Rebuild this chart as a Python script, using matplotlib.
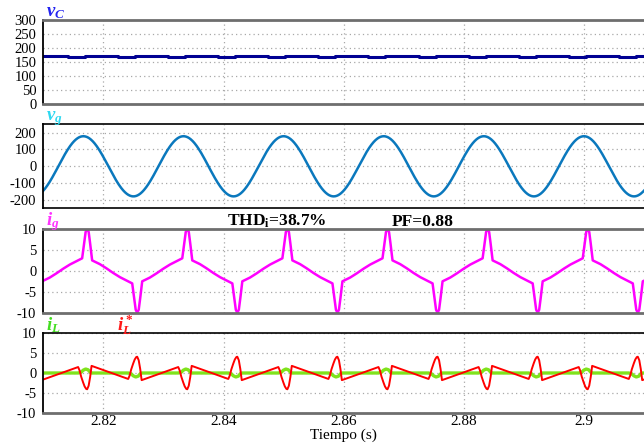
import numpy as np
import matplotlib
matplotlib.use("Agg")
import matplotlib.pyplot as plt

plt.rcParams['font.family'] = ['Liberation Serif', 'DejaVu Serif']
plt.rcParams['mathtext.fontset'] = 'custom'
plt.rcParams['mathtext.it'] = 'Liberation Serif:italic:bold'
plt.rcParams['mathtext.rm'] = 'Liberation Serif:bold'
plt.rcParams['mathtext.bf'] = 'Liberation Serif:bold'
plt.rcParams['axes.unicode_minus'] = False

# ---------------- data ----------------
T_START, T_END = 2.81, 2.91
PERIOD = 1.0 / 60.0                 # grid period (s)
IG_PEAK_TIME = 2.8173               # time of the first positive i_g spike
VG_PEAK_TIME = 2.81667              # time of the first v_g crest
VG_AMPLITUDE = 179.0                # V

# one half-cycle of i_g  (phase in periods, relative to the positive spike)
IG_PHASE = [-0.05, -0.03, -0.015, 0.0, 0.015, 0.03, 0.05, 0.127, 0.193, 0.26, 0.327, 0.41, 0.45]
IG_VALUE = [3.0, 6.5, 9.3, 10.0, 9.3, 6.5, 2.5, 1.6, 0.6, -0.5, -1.5, -2.5, -3.0]

# one half-cycle of i_L* (reference)
ILREF_PHASE = [-0.09, -0.075, -0.06, -0.04, -0.025, -0.01, 0.0, 0.015, 0.03, 0.044, 0.41]
ILREF_VALUE = [1.5, 0.6, -0.9, -2.4, -3.4, -4.0, -4.1, -3.2, -1.0, 1.8, -1.5]

# one half-cycle of i_L (measured)
IL_PHASE = [-0.09, -0.06, -0.04, -0.015, 0.01, 0.03, 0.045, 0.41]
IL_VALUE = [0.0, 0.2, 0.7, 1.0, 0.8, 0.2, 0.0, 0.0]

# v_C ripple: low level starts / high level starts (phase), levels (V)
VC_PHASE = [-0.19, -0.02]
VC_LEVEL = [167.5, 172.0]

X_TICKS = [2.82, 2.84, 2.86, 2.88, 2.90]
X_TICK_LABELS = ['2.82', '2.84', '2.86', '2.88', '2.9']
VC_TICKS = [0, 50, 100, 150, 200, 250, 300]
VG_TICKS = [-200, -100, 0, 100, 200]
I_TICKS = [-10, -5, 0, 5, 10]

THD_TEXT = 'THD$_\\mathrm{i}$=38.7%'
PF_TEXT = 'PF=0.88'
X_LABEL = 'Tiempo (s)'


def tile_half_wave(phase, value, t0, ncycles=range(-1, 7)):
    ph, va = [], []
    for k in ncycles:
        for h in (0, 1):
            ph.extend(np.asarray(phase) + k + 0.5 * h)
            va.extend(np.asarray(value) * (-1) ** h)
    return t0 + np.array(ph) * PERIOD, np.array(va)


t_ig, ig = tile_half_wave(IG_PHASE, IG_VALUE, IG_PEAK_TIME)
t_ref, ilref = tile_half_wave(ILREF_PHASE, ILREF_VALUE, IG_PEAK_TIME)
t_il, il = tile_half_wave(IL_PHASE, IL_VALUE, IG_PEAK_TIME)

t_vc, vc = [], []
for k in range(-2, 14):
    for p, lv in zip(VC_PHASE, VC_LEVEL):
        t_vc.append(IG_PEAK_TIME + (p + 0.5 * k) * PERIOD)
        vc.append(lv)
t_vc, vc = np.array(t_vc), np.array(vc)

t = np.linspace(T_START, T_END, 2000)
vg = VG_AMPLITUDE * np.cos(2 * np.pi * (t - VG_PEAK_TIME) / PERIOD)

# ---------------- figure ----------------
W, H = 644, 448
fig = plt.figure(figsize=(W / 100, H / 100), dpi=100)
left = 43.3 / W
panels = [(20, 104), (124.3, 208.3), (229, 312.7), (333.3, 412.7)]
axes = []
for top, bot in panels:
    axes.append(fig.add_axes([left, 1 - bot / H, 1 - left, (bot - top) / H]))

GRAY = '#6e6e6e'
spine_style = [((GRAY, 2.0), (GRAY, 2.0)),
               (('black', 1.2), ('black', 1.2)),
               ((GRAY, 2.0), (GRAY, 2.0)),
               (('black', 1.2), (GRAY, 2.0))]

for ax, ((tc, tw), (bc, bw)) in zip(axes, spine_style):
    ax.set_xlim(T_START, T_END)
    ax.set_xticks(X_TICKS)
    ax.grid(True, color='#a8a8a8', linestyle=(0, (1, 2.5)), linewidth=0.9)
    ax.tick_params(axis='y', length=0, labelsize=10.5, pad=5)
    ax.tick_params(axis='x', length=0, labelsize=11, pad=2)
    ax.spines['right'].set_visible(False)
    ax.spines['top'].set_color(tc)
    ax.spines['top'].set_linewidth(tw)
    ax.spines['bottom'].set_color(bc)
    ax.spines['bottom'].set_linewidth(bw)
    ax.spines['left'].set_color('black')
    ax.spines['left'].set_linewidth(1.3)
    ax.set_axisbelow(True)

for ax in axes[:-1]:
    ax.tick_params(labelbottom=False)

ax1, ax2, ax3, ax4 = axes
ax1.plot(t_vc, vc, drawstyle='steps-post', color='#000092', lw=2.2)
ax1.set_ylim(0, 300)
ax1.set_yticks(VC_TICKS)

ax2.plot(t, vg, color='#0a78bd', lw=1.8)
ax2.set_ylim(-250, 250)
ax2.set_yticks(VG_TICKS)

ax3.plot(t_ig, ig, color='#ff00ff', lw=1.8)
ax3.set_ylim(-10, 10)
ax3.set_yticks(I_TICKS)

ax4.plot(t_il, il, color='#7fe31c', lw=2.4)
ax4.plot(t_ref, ilref, color='#ff0000', lw=1.4)
ax4.set_ylim(-10, 10)
ax4.set_yticks(I_TICKS)
ax4.set_xticklabels(X_TICK_LABELS)
for a in axes:
    a.set_xlim(T_START, T_END)

ax4.set_xlabel(X_LABEL, fontsize=11, labelpad=0)

def px(x, y):
    return x / W, 1 - y / H

fig.text(*px(46, 16), '$v_C$', color='#2424f0', fontsize=13.5, va='baseline')
fig.text(*px(46, 120), '$v_g$', color='#2fd8f0', fontsize=13.5, va='baseline')
fig.text(*px(46, 225), '$i_g$', color='#ff33ff', fontsize=13.5, va='baseline')
fig.text(*px(46, 330), '$i_L$', color='#44dd22', fontsize=13.5, va='baseline')
fig.text(*px(117, 330), '$i_L^*$', color='#ff1a1a', fontsize=13.5, va='baseline')

fig.text(*px(227, 225.7), THD_TEXT, fontsize=12.5, fontweight='bold', va='baseline')
fig.text(*px(392, 225.7), PF_TEXT, fontsize=12.5, fontweight='bold', va='baseline')

fig.savefig('out.png', dpi=100)
